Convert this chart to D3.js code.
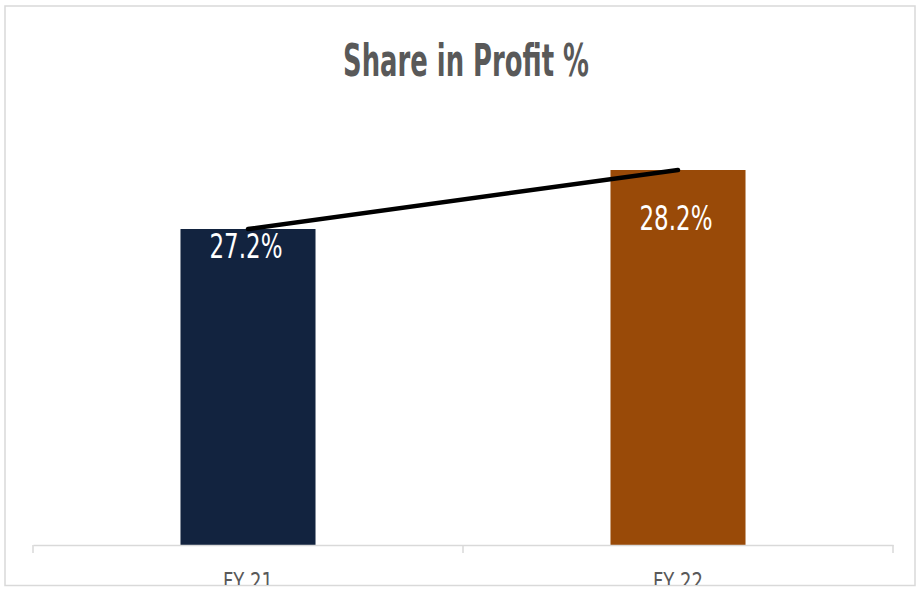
<!DOCTYPE html>
<html>
<head>
<meta charset="utf-8">
<script src="https://cdn.jsdelivr.net/npm/d3@7"></script>
<style>
  body { margin: 0; background: #fff; }
  svg { display: block; }
  text { font-family: "Liberation Sans Narrow", "DejaVu Sans Condensed", sans-serif; }
</style>
</head>
<body>
<script>
// chart data
var years = ["FY 21", "FY 22"];
var share = [27.2, 28.2];
var barColors = ["#12233f", "#994a08"];
var valueLabels = ["27.2%", "28.2%"];
var chartTitle = "Share in Profit %";

function drawChart(){
    var W = 920, H = 589;
    var svg = d3.select("body").append("svg")
        .attr("width", W)
        .attr("height", H);

    // frame clip (the category labels get cut at the bottom border)
    svg.append("clipPath").attr("id", "frame")
        .append("rect").attr("x", 5).attr("y", 6).attr("width", 910).attr("height", 579);

    svg.append("rect")
        .attr("x", 5).attr("y", 6)
        .attr("width", 910).attr("height", 579.5)
        .attr("fill", "#fff")
        .attr("stroke", "#d9d9d9")
        .attr("stroke-width", 1.5);

    var g = svg.append("g").attr("clip-path", "url(#frame)");

    var x = d3.scaleBand()
        .domain(years)
        .range([33, 893])
        .paddingInner(0.686)
        .paddingOuter(0.343);

    // axis does not start at zero
    var y = d3.scaleLinear()
        .domain([21.845, 28.2])
        .range([545, 170]);

    g.selectAll(".bar")
        .data(share)
        .enter()
        .append("rect")
        .attr("class", "bar")
        .attr("x", function(d, i){ return x(years[i]); })
        .attr("y", function(d){ return y(d); })
        .attr("width", x.bandwidth())
        .attr("height", function(d){ return y.range()[0] - y(d); })
        .attr("fill", function(d, i){ return barColors[i]; });

    // x axis
    var axis = d3.axisBottom(x).tickSize(0).tickFormat("");
    var ax = g.append("g").attr("transform", "translate(0,545)").call(axis);
    ax.select(".domain").attr("stroke", "#d9d9d9").attr("stroke-width", 1.5);
    // boundary ticks between categories
    var bounds = [33, 33 + x.step(), 893];
    ax.selectAll(".bound")
        .data(bounds)
        .enter()
        .append("line")
        .attr("x1", function(d){ return d; })
        .attr("x2", function(d){ return d; })
        .attr("y1", 0).attr("y2", 8)
        .attr("stroke", "#d9d9d9")
        .attr("stroke-width", 1.5);

    g.selectAll(".cat")
        .data(years)
        .enter()
        .append("text")
        .attr("class", "cat")
        .attr("x", function(d){ return x(d) + x.bandwidth() / 2; })
        .attr("y", 590)
        .attr("text-anchor", "middle")
        .attr("font-size", 24)
        .attr("fill", "#595959")
        .attr("textLength", 50)
        .attr("lengthAdjust", "spacingAndGlyphs")
        .text(function(d){ return d; });

    // trend line across bar tops
    var line = d3.line()
        .x(function(d, i){ return x(years[i]) + x.bandwidth() / 2; })
        .y(function(d){ return y(d); });
    g.append("path")
        .datum(share)
        .attr("d", line)
        .attr("fill", "none")
        .attr("stroke", "#000")
        .attr("stroke-width", 4.5)
        .attr("stroke-linecap", "round");

    // label drop below the bar top (first one sits under the line end)
    var labelDrop = [29, 60];
    g.selectAll(".val")
        .data(share)
        .enter()
        .append("text")
        .attr("class", "val")
        .attr("x", function(d, i){ return x(years[i]) + x.bandwidth() / 2 - 2; })
        .attr("y", function(d, i){ return y(d) + labelDrop[i]; })
        .attr("text-anchor", "middle")
        .attr("font-size", 34)
        .attr("fill", "#fff")
        .attr("textLength", 73)
        .attr("lengthAdjust", "spacingAndGlyphs")
        .text(function(d, i){ return valueLabels[i]; });

    svg.append("text")
        .attr("x", 466)
        .attr("y", 76)
        .attr("text-anchor", "middle")
        .attr("font-size", 45)
        .attr("font-weight", "bold")
        .attr("fill", "#595959")
        .attr("textLength", 246)
        .attr("lengthAdjust", "spacingAndGlyphs")
        .text(chartTitle);
}

window.onload = drawChart;
</script>
</body>
</html>
